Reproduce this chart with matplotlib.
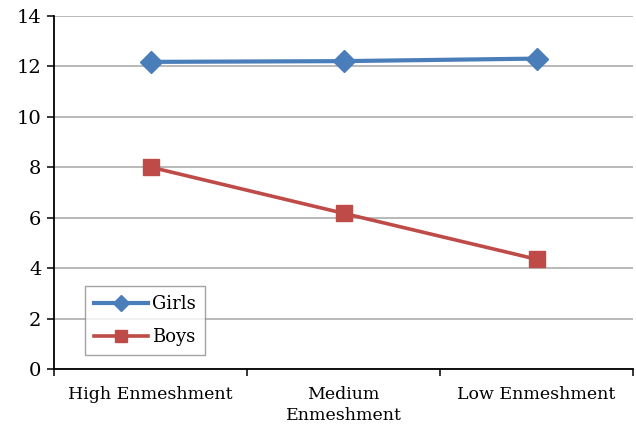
import matplotlib
matplotlib.use("Agg")
import matplotlib.pyplot as plt
from matplotlib.ticker import FixedLocator

plt.rcParams['font.family'] = ['DejaVu Serif']

categories = ["High Enmeshment", "Medium\nEnmeshment", "Low Enmeshment"]
girls = [12.17, 12.2, 12.3]
boys = [8.0, 6.17, 4.35]
y_ticks = [0, 2, 4, 6, 8, 10, 12, 14]

W, H = 636, 433
fig = plt.figure(figsize=(W / 100, H / 100), dpi=100)
left, right, top, bottom = 54, 633, 15.7, 369
ax = fig.add_axes([left / W, 1 - bottom / H, (right - left) / W, (bottom - top) / H])

x = list(range(len(categories)))
ax.plot(x, girls, color="#4A7EBB", lw=3.0, marker="D", ms=11,
        markeredgecolor="#4A7EBB", label="Girls", zorder=3)
ax.plot(x, boys, color="#BE4B48", lw=2.6, marker="s", ms=12,
        markeredgecolor="#BE4B48", label="Boys", zorder=3)

ax.set_xlim(-0.5, len(categories) - 0.5)
ax.set_ylim(0, 14)
ax.set_yticks(y_ticks)
ax.yaxis.grid(True, color="#a6a6a6", lw=1.1)
ax.set_axisbelow(True)

ax.set_xticks(x)
ax.set_xticklabels(categories, fontsize=12.5, linespacing=1.3)
ax.xaxis.set_minor_locator(FixedLocator([i - 0.5 for i in range(len(categories) + 1)]))
ax.tick_params(axis="x", which="major", length=0, pad=12)
ax.tick_params(axis="x", which="minor", length=5, width=1.1, color="black", direction="out")
ax.tick_params(axis="y", length=5, width=1.1, direction="out", labelsize=14, pad=4)

for s in ("top", "right"):
    ax.spines[s].set_visible(False)
for s in ("left", "bottom"):
    ax.spines[s].set_color("black")
    ax.spines[s].set_linewidth(1.3)

leg = ax.legend(loc="upper left", bbox_to_anchor=(85 / W, 1 - 286 / H),
                bbox_transform=fig.transFigure, fontsize=13, frameon=True,
                fancybox=False, edgecolor="#8c8c8c", handlelength=3.0,
                borderpad=0.5, labelspacing=0.85, handletextpad=0.2,
                borderaxespad=0)
leg.get_frame().set_linewidth(1.0)
for h in leg.legend_handles:
    h.set_markersize(8)

fig.savefig("out.png", dpi=100)
